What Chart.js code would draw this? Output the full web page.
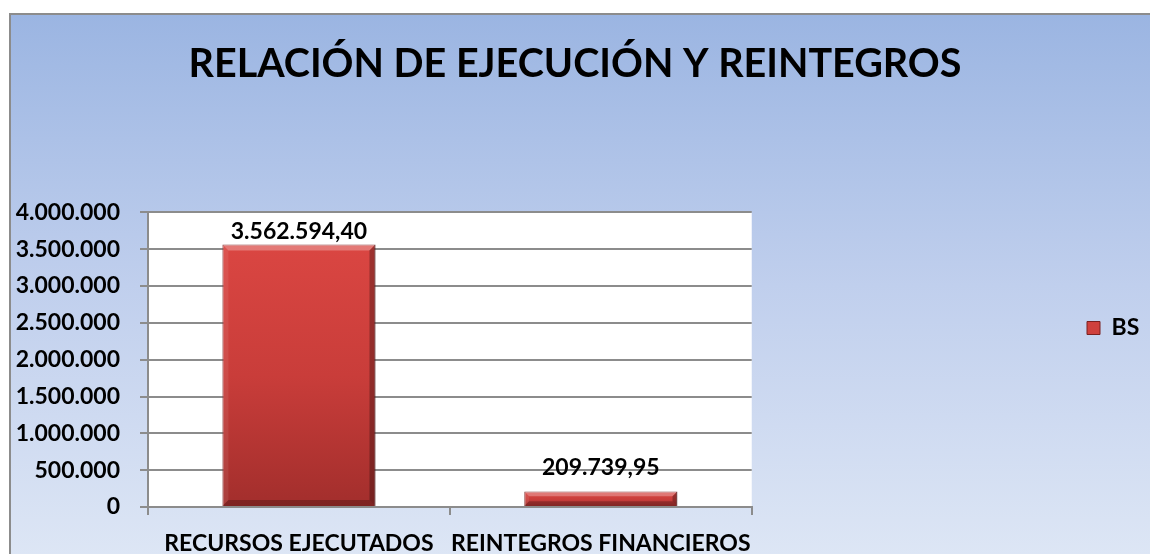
<!DOCTYPE html>
<html>
<head>
<meta charset="utf-8">
<script src="https://cdn.jsdelivr.net/npm/chart.js@4/dist/chart.umd.min.js"></script>
<style>
html, body { margin: 0; padding: 0; width: 1150px; height: 554px; overflow: hidden; background: #fff; }
#marco {
    position: absolute; left: 9px; top: 13px; width: 1141px; height: 541px;
    border-left: 2px solid #8c8c8c; border-top: 2px solid #8c8c8c;
    background: linear-gradient(180deg, #9bb5e2 0%, #c0cfed 50%, #dde6f5 100%);
}
#grafico { position: absolute; left: 0; top: 0; }
</style>
</head>
<body>
<div id="marco"></div>
<canvas id="grafico" width="1150" height="554"></canvas>
<script>
var titulo = 'RELACIÓN DE EJECUCIÓN Y REINTEGROS';
var categorias = ['RECURSOS EJECUTADOS', 'REINTEGROS FINANCIEROS'];
var serie = 'BS';
var valoresBs = [3562594.40, 209739.95];
var ejeMin = 0;
var ejeMax = 4000000;
var ejePaso = 500000;

var fuente = 'Lato, "DejaVu Sans", sans-serif';

function miles(n) {
    return String(Math.round(n)).replace(/\B(?=(\d{3})+(?!\d))/g, '.');
}

function conDecimales(n) {
    var partes = n.toFixed(2).split('.');
    return miles(Number(partes[0])) + ',' + partes[1];
}

// fondo blanco del area de trazado
var fondoBlanco = {
    id: 'fondoBlanco',
    beforeDraw: function (chart) {
        var a = chart.chartArea;
        var ctx = chart.ctx;
        ctx.save();
        ctx.fillStyle = '#ffffff';
        ctx.fillRect(a.left, a.top, a.right - a.left, a.bottom - a.top);
        ctx.restore();
    }
};

// bisel tipo Excel sobre cada barra
function poligono(ctx, pts, color) {
    ctx.beginPath();
    ctx.moveTo(pts[0], pts[1]);
    for (var i = 2; i < pts.length; i += 2) ctx.lineTo(pts[i], pts[i + 1]);
    ctx.closePath();
    ctx.fillStyle = color;
    ctx.fill();
}

var bisel = {
    id: 'bisel',
    afterDatasetsDraw: function (chart) {
        var ctx = chart.ctx;
        ctx.save();
        chart.getDatasetMeta(0).data.forEach(function (barra) {
            var l = barra.x - barra.width / 2, r = barra.x + barra.width / 2;
            var t = barra.y, b = barra.base;
            var d = Math.min(6, (b - t) / 3);
            poligono(ctx, [l, t, r, t, r - d, t + d, l + d, t + d], 'rgba(255,255,255,0.28)');
            poligono(ctx, [l, t, l + d, t + d, l + d, b - d, l, b], 'rgba(255,255,255,0.08)');
            poligono(ctx, [r, t, r - d, t + d, r - d, b - d, r, b], 'rgba(0,0,0,0.28)');
            poligono(ctx, [l, b, l + d, b - d, r - d, b - d, r, b], 'rgba(0,0,0,0.22)');
        });
        ctx.restore();
    }
};

// etiquetas de valor encima de cada barra
var etiquetas = {
    id: 'etiquetas',
    afterDatasetsDraw: function (chart) {
        var ctx = chart.ctx;
        var meta = chart.getDatasetMeta(0);
        var separacion = [13, 24];
        ctx.save();
        ctx.font = 'bold 23px ' + fuente;
        ctx.fillStyle = '#000';
        ctx.textAlign = 'center';
        ctx.textBaseline = 'middle';
        meta.data.forEach(function (barra, i) {
            ctx.fillText(conDecimales(valoresBs[i]), barra.x, barra.y - separacion[i]);
        });
        ctx.restore();
    }
};

// leyenda a la derecha y titulo centrado en todo el lienzo
var ajustarCajas = {
    id: 'ajustarCajas',
    afterLayout: function (chart) {
        var l = chart.legend;
        var alto = l.height;
        var ancho = l.width;
        l.left = 1087 - 10;
        l.right = l.left + ancho;
        l.top = 328 - alto / 2;
        l.bottom = l.top + alto;
        var t = chart.titleBlock;
        t.left = 0;
        t.right = chart.width;
        t.width = chart.width;
    }
};

function rellenoBarra(context) {
    var chart = context.chart;
    if (!chart.chartArea || context.dataIndex === undefined) return '#c83c39';
    var y = chart.scales.y;
    var arriba = y.getPixelForValue(valoresBs[context.dataIndex]);
    var abajo = y.getPixelForValue(0);
    var g = chart.ctx.createLinearGradient(0, arriba, 0, abajo);
    g.addColorStop(0, '#da4642');
    g.addColorStop(0.5, '#c93d3a');
    g.addColorStop(1, '#a22e2c');
    return g;
}

new Chart(document.getElementById('grafico'), {
    type: 'bar',
    data: {
        labels: categorias,
        datasets: [{
            label: serie,
            data: valoresBs,
            backgroundColor: rellenoBarra,
            borderColor: '#7a2020',
            borderWidth: 1,
            categoryPercentage: 1,
            barPercentage: 0.507
        }]
    },
    options: {
        responsive: false,
        animation: false,
        layout: { padding: { left: 0, right: 326, top: 0, bottom: 0 } },
        plugins: {
            title: {
                display: true,
                text: titulo,
                color: '#000',
                font: { family: fuente, size: 39.5, weight: 'bold' },
                padding: { top: 41, bottom: 124 }
            },
            legend: {
                position: 'right',
                labels: {
                    color: '#000',
                    boxWidth: 13,
                    boxHeight: 13,
                    font: { family: fuente, size: 23, weight: 'bold' }
                }
            },
            tooltip: { enabled: false }
        },
        scales: {
            x: {
                grid: { display: true, drawOnChartArea: false, drawTicks: true, tickLength: 8, color: '#8c8c8c', lineWidth: 2 },
                border: { color: '#8c8c8c', width: 2 },
                ticks: {
                    color: '#000', padding: 15, autoSkip: false, maxRotation: 0, minRotation: 0,
                    font: { family: fuente, size: 23, weight: 'bold' }
                },
                afterFit: function (s) { s.height = 47; }
            },
            y: {
                min: ejeMin,
                max: ejeMax,
                grid: { color: '#8c8c8c', lineWidth: 2, tickLength: 8 },
                border: { color: '#8c8c8c', width: 2 },
                ticks: {
                    stepSize: ejePaso,
                    color: '#000',
                    padding: 20,
                    font: { family: fuente, size: 23, weight: 'bold' },
                    callback: function (v) { return miles(v); }
                },
                afterFit: function (s) { s.width = 148; }
            }
        }
    },
    plugins: [fondoBlanco, bisel, etiquetas, ajustarCajas]
});
</script>
</body>
</html>
